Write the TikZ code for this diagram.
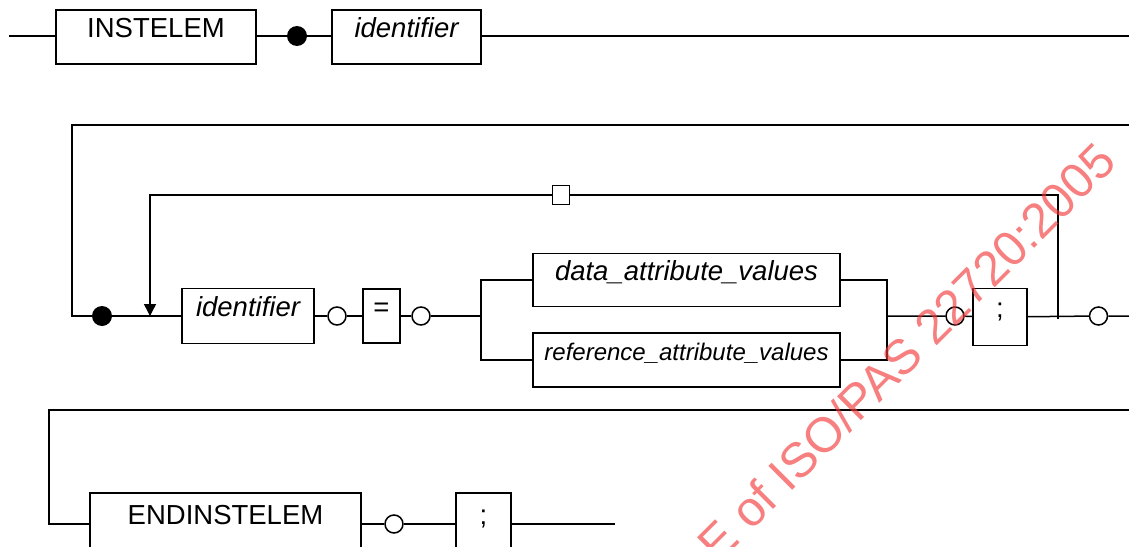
\documentclass[tikz,border=0pt]{standalone}
\usepackage{fontspec}
\setmainfont{Liberation Sans}
\usepackage{tikz}
\usetikzlibrary{arrows.meta,positioning}
\definecolor{synInk}{HTML}{000000}
\definecolor{synMark}{HTML}{F23A3A}
\tikzset{
  syn/.style={draw=synInk,line width=1.5pt,rectangle,inner sep=0pt,fill=white,
              text height=19pt,text depth=19pt,font=\fontsize{27.5}{32}\selectfont},
  synkw/.style={syn},
  synid/.style={syn,font=\fontsize{27.5}{32}\selectfont\itshape},
  syndot/.style={circle,fill=synInk,minimum size=20pt,inner sep=0pt},
  synring/.style={circle,draw=synInk,line width=1.5pt,fill=white,minimum size=18pt,inner sep=0pt},
  synsq/.style={draw=synInk,line width=1.5pt,fill=white,minimum width=17pt,minimum height=19pt,inner sep=0pt},
  synflow/.style={draw=synInk,line width=1.5pt},
  synloop/.style={synflow,-{Triangle[length=12pt,width=12pt]}},
  synmark/.style={text=synMark,opacity=.65,inner sep=0pt,rotate=45,
                  font=\fontsize{49}{49}\selectfont},
}

\begin{document}
\begin{tikzpicture}[x=1pt,y=-1pt]
  \clip (0,0) rectangle (1129,546);

  % first row
  \coordinate (S1) at (9,36);
  \node[synkw,minimum width=200pt,minimum height=54pt] (KW1) at (156,37) {INSTELEM};
  \node[syndot] (D1) at (297,36) {};
  \node[synid,minimum width=149pt,minimum height=54pt] (ID1) at (406.5,37) {identifier};
  \coordinate (E1) at (1140,36);

  % second row
  \coordinate (R2a) at (1140,125);
  \coordinate (R2b) at (72,125);
  \coordinate (R2c) at (72,316);
  \node[syndot] (D2) at (102,316) {};
  \coordinate (J2) at (150,316);
  \node[synid,minimum width=132pt,minimum height=55pt] (ID2) at (248,316) {identifier};
  \node[synring] (C1) at (337,316) {};
  \node[synkw,minimum width=37pt,minimum height=54pt] (EQ) at (381.5,316) {=};
  \node[synring] (C2) at (421,316) {};
  \coordinate (B1) at (481,316);
  \node[synid,minimum width=307pt,minimum height=53pt,font=\fontsize{27.5}{32}\selectfont\itshape]
        (DAV) at (686.5,280) {data\_attribute\_values};
  \node[synid,minimum width=307pt,minimum height=54pt,font=\fontsize{24}{29}\selectfont\itshape]
        (RAV) at (686.5,360) {reference\_attribute\_values};
  \coordinate (B2) at (887,316);
  \node[synring] (C3) at (955,316) {};
  \node[synkw,minimum width=54pt,minimum height=57pt] (SC1) at (1000,317) {;};
  \coordinate (J3) at (1058,316);
  \node[synring] (C4) at (1098.5,316) {};
  \coordinate (E2) at (1140,316);
  \node[synsq] (SQ) at (561,195) {};

  % third row
  \coordinate (R3a) at (1140,410);
  \coordinate (R3b) at (49,410);
  \coordinate (R3c) at (49,524);
  \node[synkw,minimum width=271pt,minimum height=62pt] (KW2) at (225.5,524) {ENDINSTELEM};
  \node[synring] (C5) at (394,524) {};
  \node[synkw,minimum width=55pt,minimum height=62pt] (SC2) at (483.5,524) {;};
  \coordinate (E3) at (615,524);

  \draw[synflow] (S1) -- (KW1.west |- S1);
  \draw[synflow] (KW1.east |- D1) -- (D1) -- (ID1.west |- D1);
  \draw[synflow] (ID1.east |- E1) -- (E1);

  \draw[synflow] (R2a) -- (R2b) -- (R2c) -- (D2) -- (ID2);
  \draw[synflow] (ID2) -- (C1) -- (EQ) -- (C2) -- (B1);
  \draw[synflow] (B1) |- (DAV);
  \draw[synflow] (B1) |- (RAV);
  \draw[synflow] (DAV) -| (B2);
  \draw[synflow] (RAV) -| (B2);
  \draw[synflow] (B2) -- (C3) -- (SC1) -- (C4) -- (E2);
  \draw[synflow] ([yshift=-3pt]J3) |- (SQ);
  \draw[synloop] (SQ) -| (J2);

  \draw[synflow] (R3a) -- (R3b) -- (R3c) -- (KW2);
  \draw[synflow] (KW2) -- (C5) -- (SC2) -- (E3);

  \node[synmark] (WM) at (906,352) {E of ISO/PAS 22720:2005};
\end{tikzpicture}
\end{document}
